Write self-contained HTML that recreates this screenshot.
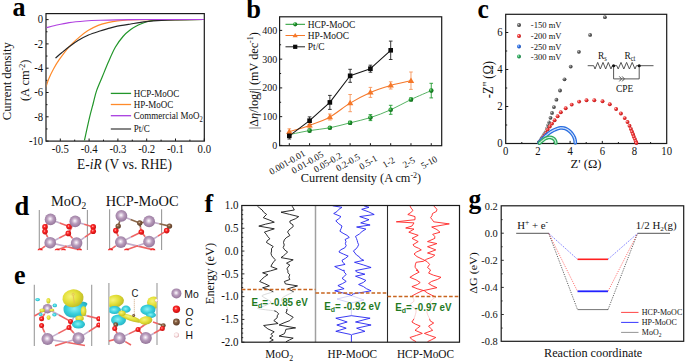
<!DOCTYPE html>
<html><head><meta charset="utf-8"><style>
html,body{margin:0;padding:0;background:#fff;width:685px;height:361px;overflow:hidden;}
svg{display:block;}
</style></head><body>
<svg width="685" height="361" viewBox="0 0 685 361">
<rect width="685" height="361" fill="#fff"/>
<defs>
<radialGradient id="gK" cx="0.35" cy="0.35" r="0.75"><stop offset="0" stop-color="#d0d0d0"/><stop offset="0.35" stop-color="#6a6a6a"/><stop offset="1" stop-color="#2a2a2a"/></radialGradient>
<radialGradient id="gR" cx="0.35" cy="0.35" r="0.75"><stop offset="0" stop-color="#ffd0d0"/><stop offset="0.35" stop-color="#f03a3a"/><stop offset="1" stop-color="#b01010"/></radialGradient>
<radialGradient id="gB" cx="0.35" cy="0.35" r="0.75"><stop offset="0" stop-color="#d0e0ff"/><stop offset="0.35" stop-color="#2f72e6"/><stop offset="1" stop-color="#1040a0"/></radialGradient>
<radialGradient id="gGc" cx="0.35" cy="0.35" r="0.75"><stop offset="0" stop-color="#d0ffe0"/><stop offset="0.35" stop-color="#30aa5e"/><stop offset="1" stop-color="#10703a"/></radialGradient>
<radialGradient id="gG" cx="0.35" cy="0.35" r="0.75"><stop offset="0" stop-color="#a0e0a0"/><stop offset="0.35" stop-color="#1f9a2f"/><stop offset="1" stop-color="#0c5a14"/></radialGradient>
<radialGradient id="gMo" cx="0.47" cy="0.45" r="0.6"><stop offset="0" stop-color="#ffffff"/><stop offset="0.15" stop-color="#e8dcea"/><stop offset="0.45" stop-color="#b89cbc"/><stop offset="1" stop-color="#8e6e94"/></radialGradient>
<radialGradient id="gY" cx="0.4" cy="0.38" r="0.7"><stop offset="0" stop-color="#f6f47a"/><stop offset="0.5" stop-color="#e2de36"/><stop offset="1" stop-color="#b8b424"/></radialGradient>
<radialGradient id="gCy" cx="0.45" cy="0.45" r="0.65"><stop offset="0" stop-color="#8ef0f4"/><stop offset="0.5" stop-color="#38d0dc"/><stop offset="1" stop-color="#22a8bc"/></radialGradient>
<radialGradient id="gO" cx="0.42" cy="0.4" r="0.65"><stop offset="0" stop-color="#ffc8c8"/><stop offset="0.3" stop-color="#ff2a2a"/><stop offset="1" stop-color="#c40808"/></radialGradient>
<radialGradient id="gC" cx="0.42" cy="0.4" r="0.65"><stop offset="0" stop-color="#e0c8b0"/><stop offset="0.3" stop-color="#8a6446"/><stop offset="1" stop-color="#553420"/></radialGradient>
<radialGradient id="gH" cx="0.45" cy="0.45" r="0.6"><stop offset="0" stop-color="#ffffff"/><stop offset="0.55" stop-color="#fbeaea"/><stop offset="1" stop-color="#d08c94"/></radialGradient>
<clipPath id="clipA"><rect x="46.6" y="14.2" width="157.1" height="126.3"/></clipPath>
<clipPath id="clipD"><rect x="30" y="200" width="150" height="50.3"/></clipPath>
<clipPath id="clipD1"><rect x="30" y="205" width="70" height="46"/></clipPath>
<clipPath id="clipE0"><rect x="90" y="280" width="10" height="70"/></clipPath>
<clipPath id="clipE1"><rect x="109.3" y="280" width="47.3" height="70"/></clipPath>
</defs>
<rect x="46.00" y="13.60" width="158.30" height="127.50" fill="none" stroke="#1a1a1a" stroke-width="1.2"/>
<line x1="60.30" y1="141.10" x2="60.30" y2="138.50" stroke="#1a1a1a" stroke-width="1"/>
<line x1="74.70" y1="141.10" x2="74.70" y2="139.60" stroke="#1a1a1a" stroke-width="1"/>
<line x1="89.10" y1="141.10" x2="89.10" y2="138.50" stroke="#1a1a1a" stroke-width="1"/>
<line x1="103.50" y1="141.10" x2="103.50" y2="139.60" stroke="#1a1a1a" stroke-width="1"/>
<line x1="117.90" y1="141.10" x2="117.90" y2="138.50" stroke="#1a1a1a" stroke-width="1"/>
<line x1="132.30" y1="141.10" x2="132.30" y2="139.60" stroke="#1a1a1a" stroke-width="1"/>
<line x1="146.70" y1="141.10" x2="146.70" y2="138.50" stroke="#1a1a1a" stroke-width="1"/>
<line x1="161.10" y1="141.10" x2="161.10" y2="139.60" stroke="#1a1a1a" stroke-width="1"/>
<line x1="175.50" y1="141.10" x2="175.50" y2="138.50" stroke="#1a1a1a" stroke-width="1"/>
<line x1="189.90" y1="141.10" x2="189.90" y2="139.60" stroke="#1a1a1a" stroke-width="1"/>
<line x1="204.30" y1="141.10" x2="204.30" y2="138.50" stroke="#1a1a1a" stroke-width="1"/>
<line x1="46.00" y1="19.60" x2="48.60" y2="19.60" stroke="#1a1a1a" stroke-width="1"/>
<line x1="46.00" y1="31.75" x2="47.50" y2="31.75" stroke="#1a1a1a" stroke-width="1"/>
<line x1="46.00" y1="43.90" x2="48.60" y2="43.90" stroke="#1a1a1a" stroke-width="1"/>
<line x1="46.00" y1="56.05" x2="47.50" y2="56.05" stroke="#1a1a1a" stroke-width="1"/>
<line x1="46.00" y1="68.20" x2="48.60" y2="68.20" stroke="#1a1a1a" stroke-width="1"/>
<line x1="46.00" y1="80.35" x2="47.50" y2="80.35" stroke="#1a1a1a" stroke-width="1"/>
<line x1="46.00" y1="92.50" x2="48.60" y2="92.50" stroke="#1a1a1a" stroke-width="1"/>
<line x1="46.00" y1="104.65" x2="47.50" y2="104.65" stroke="#1a1a1a" stroke-width="1"/>
<line x1="46.00" y1="116.80" x2="48.60" y2="116.80" stroke="#1a1a1a" stroke-width="1"/>
<line x1="46.00" y1="128.95" x2="47.50" y2="128.95" stroke="#1a1a1a" stroke-width="1"/>
<line x1="46.00" y1="141.10" x2="48.60" y2="141.10" stroke="#1a1a1a" stroke-width="1"/>
<text transform="translate(43.20 23.30) scale(1 1.13)" style="font-family:'Liberation Serif', serif" font-size="10.7" text-anchor="end" fill="#111">0</text>
<text transform="translate(43.20 47.60) scale(1 1.13)" style="font-family:'Liberation Serif', serif" font-size="10.7" text-anchor="end" fill="#111">-2</text>
<text transform="translate(43.20 71.90) scale(1 1.13)" style="font-family:'Liberation Serif', serif" font-size="10.7" text-anchor="end" fill="#111">-4</text>
<text transform="translate(43.20 96.20) scale(1 1.13)" style="font-family:'Liberation Serif', serif" font-size="10.7" text-anchor="end" fill="#111">-6</text>
<text transform="translate(43.20 120.50) scale(1 1.13)" style="font-family:'Liberation Serif', serif" font-size="10.7" text-anchor="end" fill="#111">-8</text>
<text transform="translate(43.20 144.80) scale(1 1.13)" style="font-family:'Liberation Serif', serif" font-size="10.7" text-anchor="end" fill="#111">-10</text>
<text transform="translate(60.30 152.60) scale(1 1.13)" style="font-family:'Liberation Serif', serif" font-size="10.7" text-anchor="middle" fill="#111">-0.5</text>
<text transform="translate(89.10 152.60) scale(1 1.13)" style="font-family:'Liberation Serif', serif" font-size="10.7" text-anchor="middle" fill="#111">-0.4</text>
<text transform="translate(117.90 152.60) scale(1 1.13)" style="font-family:'Liberation Serif', serif" font-size="10.7" text-anchor="middle" fill="#111">-0.3</text>
<text transform="translate(146.70 152.60) scale(1 1.13)" style="font-family:'Liberation Serif', serif" font-size="10.7" text-anchor="middle" fill="#111">-0.2</text>
<text transform="translate(175.50 152.60) scale(1 1.13)" style="font-family:'Liberation Serif', serif" font-size="10.7" text-anchor="middle" fill="#111">-0.1</text>
<text transform="translate(204.30 152.60) scale(1 1.13)" style="font-family:'Liberation Serif', serif" font-size="10.7" text-anchor="middle" fill="#111">0.0</text>
<text transform="translate(124.50 168.80) scale(1 1.13)" style="font-family:'Liberation Serif', serif" font-size="13.4" text-anchor="middle" fill="#111">E-<tspan font-style="italic">iR</tspan> (V vs. RHE)</text>
<text transform="translate(11.20 81.25) rotate(-90) scale(1 0.92)" style="font-family:'Liberation Serif', serif" font-size="12.6" text-anchor="middle" fill="#111">Current density</text>
<text transform="translate(29.30 80.40) rotate(-90) scale(1 1.04)" style="font-family:'Liberation Serif', serif" font-size="12.4" text-anchor="middle" fill="#111">(A cm<tspan font-size="8" dy="-4.5">-2</tspan><tspan dy="4.5">)</tspan></text>
<text transform="translate(12.40 16.30) scale(1 1.06)" style="font-family:'Liberation Serif', serif" font-size="26" text-anchor="start" fill="#000" font-weight="bold">a</text>
<g clip-path="url(#clipA)">
<path d="M84.30,141.10 C85.17,137.20 88.00,124.05 89.50,117.70 C91.00,111.35 92.12,107.52 93.30,103.00 C94.48,98.48 95.08,95.02 96.60,90.60 C98.12,86.18 100.43,81.27 102.40,76.50 C104.37,71.73 106.25,66.87 108.40,62.00 C110.55,57.13 112.87,51.55 115.30,47.30 C117.73,43.05 120.43,39.45 123.00,36.50 C125.57,33.55 128.15,31.52 130.70,29.60 C133.25,27.68 135.75,26.27 138.30,25.00 C140.85,23.73 143.45,22.77 146.00,22.00 C148.55,21.23 149.77,20.78 153.60,20.40 C157.43,20.02 160.55,19.85 169.00,19.70 C177.45,19.55 198.42,19.53 204.30,19.50" fill="none" stroke="#22962a" stroke-width="1.2"/>
<path d="M45.90,87.10 C46.37,85.73 47.43,81.92 48.70,78.90 C49.97,75.88 51.75,72.20 53.50,69.00 C55.25,65.80 56.60,63.40 59.20,59.70 C61.80,56.00 65.83,50.48 69.10,46.80 C72.37,43.12 75.65,40.30 78.80,37.60 C81.95,34.90 84.77,32.63 88.00,30.60 C91.23,28.57 94.92,26.72 98.20,25.40 C101.48,24.08 104.47,23.45 107.70,22.70 C110.93,21.95 114.22,21.35 117.60,20.90 C120.98,20.45 124.27,20.22 128.00,20.00 C131.73,19.78 127.28,19.68 140.00,19.60 C152.72,19.52 193.58,19.52 204.30,19.50" fill="none" stroke="#ff8a2a" stroke-width="1.2"/>
<path d="M55.50,58.10 C56.58,57.17 59.73,54.38 62.00,52.50 C64.27,50.62 66.43,48.80 69.10,46.80 C71.77,44.80 74.77,42.47 78.00,40.50 C81.23,38.53 84.83,36.58 88.50,35.00 C92.17,33.42 96.80,32.05 100.00,31.00 C103.20,29.95 105.15,29.43 107.70,28.70 C110.25,27.97 111.47,27.38 115.30,26.60 C119.13,25.82 125.58,24.82 130.70,24.00 C135.82,23.18 140.90,22.30 146.00,21.70 C151.10,21.10 156.20,20.70 161.30,20.40 C166.40,20.10 169.43,20.05 176.60,19.90 C183.77,19.75 199.68,19.57 204.30,19.50" fill="none" stroke="#262626" stroke-width="1.2"/>
<path d="M46.00,27.80 C47.50,27.42 51.15,26.37 55.00,25.50 C58.85,24.63 64.10,23.35 69.10,22.60 C74.10,21.85 79.85,21.38 85.00,21.00 C90.15,20.62 92.38,20.53 100.00,20.30 C107.62,20.07 120.70,19.73 130.70,19.60 C140.70,19.47 147.73,19.52 160.00,19.50 C172.27,19.48 196.92,19.50 204.30,19.50" fill="none" stroke="#b040e0" stroke-width="1.15"/>
</g>
<line x1="110.80" y1="93.40" x2="131.10" y2="93.40" stroke="#22962a" stroke-width="1.3"/>
<text transform="translate(133.70 96.60) scale(1 1.13)" style="font-family:'Liberation Serif', serif" font-size="9.0" text-anchor="start" fill="#111">HCP-MoOC</text>
<line x1="110.80" y1="104.50" x2="131.10" y2="104.50" stroke="#ff8a2a" stroke-width="1.3"/>
<text transform="translate(133.70 107.70) scale(1 1.13)" style="font-family:'Liberation Serif', serif" font-size="9.0" text-anchor="start" fill="#111">HP-MoOC</text>
<line x1="110.80" y1="115.70" x2="131.10" y2="115.70" stroke="#a83ee0" stroke-width="1.3"/>
<text transform="translate(133.70 118.90) scale(1 1.13)" style="font-family:'Liberation Serif', serif" font-size="9.0" text-anchor="start" fill="#111">Commercial MoO<tspan font-size="6.5" dy="2.5">2</tspan></text>
<line x1="110.80" y1="129.00" x2="131.10" y2="129.00" stroke="#444" stroke-width="1.3"/>
<text transform="translate(133.70 132.20) scale(1 1.13)" style="font-family:'Liberation Serif', serif" font-size="9.0" text-anchor="start" fill="#111">Pt/C</text>
<rect x="279.60" y="16.80" width="162.10" height="128.90" fill="none" stroke="#1a1a1a" stroke-width="1.2"/>
<line x1="289.30" y1="145.40" x2="289.30" y2="143.20" stroke="#1a1a1a" stroke-width="1"/>
<line x1="309.58" y1="145.40" x2="309.58" y2="143.20" stroke="#1a1a1a" stroke-width="1"/>
<line x1="329.86" y1="145.40" x2="329.86" y2="143.20" stroke="#1a1a1a" stroke-width="1"/>
<line x1="350.14" y1="145.40" x2="350.14" y2="143.20" stroke="#1a1a1a" stroke-width="1"/>
<line x1="370.42" y1="145.40" x2="370.42" y2="143.20" stroke="#1a1a1a" stroke-width="1"/>
<line x1="390.70" y1="145.40" x2="390.70" y2="143.20" stroke="#1a1a1a" stroke-width="1"/>
<line x1="410.98" y1="145.40" x2="410.98" y2="143.20" stroke="#1a1a1a" stroke-width="1"/>
<line x1="431.26" y1="145.40" x2="431.26" y2="143.20" stroke="#1a1a1a" stroke-width="1"/>
<line x1="279.60" y1="145.40" x2="282.20" y2="145.40" stroke="#1a1a1a" stroke-width="1"/>
<line x1="279.60" y1="131.03" x2="281.10" y2="131.03" stroke="#1a1a1a" stroke-width="1"/>
<line x1="279.60" y1="116.65" x2="282.20" y2="116.65" stroke="#1a1a1a" stroke-width="1"/>
<line x1="279.60" y1="102.28" x2="281.10" y2="102.28" stroke="#1a1a1a" stroke-width="1"/>
<line x1="279.60" y1="87.90" x2="282.20" y2="87.90" stroke="#1a1a1a" stroke-width="1"/>
<line x1="279.60" y1="73.53" x2="281.10" y2="73.53" stroke="#1a1a1a" stroke-width="1"/>
<line x1="279.60" y1="59.15" x2="282.20" y2="59.15" stroke="#1a1a1a" stroke-width="1"/>
<line x1="279.60" y1="44.78" x2="281.10" y2="44.78" stroke="#1a1a1a" stroke-width="1"/>
<line x1="279.60" y1="30.40" x2="282.20" y2="30.40" stroke="#1a1a1a" stroke-width="1"/>
<text transform="translate(277.20 148.90) scale(1 1.13)" style="font-family:'Liberation Serif', serif" font-size="10.0" text-anchor="end" fill="#111">0</text>
<text transform="translate(277.20 120.15) scale(1 1.13)" style="font-family:'Liberation Serif', serif" font-size="10.0" text-anchor="end" fill="#111">100</text>
<text transform="translate(277.20 91.40) scale(1 1.13)" style="font-family:'Liberation Serif', serif" font-size="10.0" text-anchor="end" fill="#111">200</text>
<text transform="translate(277.20 62.65) scale(1 1.13)" style="font-family:'Liberation Serif', serif" font-size="10.0" text-anchor="end" fill="#111">300</text>
<text transform="translate(277.20 33.90) scale(1 1.13)" style="font-family:'Liberation Serif', serif" font-size="10.0" text-anchor="end" fill="#111">400</text>
<text transform="translate(288.70 165.10) rotate(-30) scale(1 1.02)" style="font-family:'Liberation Serif', serif" font-size="9.2" text-anchor="middle" fill="#111">0.001-0.01</text>
<text transform="translate(308.98 165.10) rotate(-30) scale(1 1.02)" style="font-family:'Liberation Serif', serif" font-size="9.2" text-anchor="middle" fill="#111">0.01-0.05</text>
<text transform="translate(329.26 165.10) rotate(-30) scale(1 1.02)" style="font-family:'Liberation Serif', serif" font-size="9.2" text-anchor="middle" fill="#111">0.05-0.2</text>
<text transform="translate(349.54 165.10) rotate(-30) scale(1 1.02)" style="font-family:'Liberation Serif', serif" font-size="9.2" text-anchor="middle" fill="#111">0.2-0.5</text>
<text transform="translate(369.82 165.10) rotate(-30) scale(1 1.02)" style="font-family:'Liberation Serif', serif" font-size="9.2" text-anchor="middle" fill="#111">0.5-1</text>
<text transform="translate(390.10 165.10) rotate(-30) scale(1 1.02)" style="font-family:'Liberation Serif', serif" font-size="9.2" text-anchor="middle" fill="#111">1-2</text>
<text transform="translate(410.38 165.10) rotate(-30) scale(1 1.02)" style="font-family:'Liberation Serif', serif" font-size="9.2" text-anchor="middle" fill="#111">2-5</text>
<text transform="translate(430.66 165.10) rotate(-30) scale(1 1.02)" style="font-family:'Liberation Serif', serif" font-size="9.2" text-anchor="middle" fill="#111">5-10</text>
<text transform="translate(361.00 182.40)" style="font-family:'Liberation Serif', serif" font-size="12.3" text-anchor="middle" fill="#111">Current density (A cm<tspan font-size="8" dy="-4.5">-2</tspan><tspan dy="4.5">)</tspan></text>
<text transform="translate(257.50 80.70) rotate(-90) scale(1 0.95)" style="font-family:'Liberation Serif', serif" font-size="12.2" text-anchor="middle" fill="#111">|Δ<tspan font-style="italic">η</tspan>/log<tspan font-style="italic">j</tspan>| (mV dec<tspan font-size="8" dy="-4.5">-1</tspan><tspan dy="4.5">)</tspan></text>
<text transform="translate(246.20 18.20) scale(1 1.04)" style="font-family:'Liberation Serif', serif" font-size="26.5" text-anchor="start" fill="#000" font-weight="bold">b</text>
<path d="M289.30,134.60 C292.68,133.93 302.82,131.73 309.58,130.60 C316.34,129.47 323.10,129.10 329.86,127.80 C336.62,126.50 343.38,124.50 350.14,122.80 C356.90,121.10 363.66,119.77 370.42,117.60 C377.18,115.43 383.94,112.82 390.70,109.80 C397.46,106.78 404.22,102.70 410.98,99.50 C417.74,96.30 427.88,92.08 431.26,90.60" fill="none" stroke="#2a9e3a" stroke-width="0.8"/>
<path d="M289.30,131.80 C292.68,130.73 302.82,127.87 309.58,125.40 C316.34,122.93 323.10,120.72 329.86,117.00 C336.62,113.28 343.38,107.20 350.14,103.10 C356.90,99.00 363.66,95.35 370.42,92.40 C377.18,89.45 383.94,87.35 390.70,85.40 C397.46,83.45 407.60,81.48 410.98,80.70" fill="none" stroke="#f5782a" stroke-width="1.05"/>
<polyline points="289.30,135.80 309.58,120.70 329.86,102.40 350.14,75.80 370.42,68.70 390.70,50.30" fill="none" stroke="#141414" stroke-width="1.05" stroke-linejoin="round"/>
<line x1="289.30" y1="133.10" x2="289.30" y2="136.10" stroke="#1f9a2f" stroke-width="0.9"/>
<line x1="287.50" y1="133.10" x2="291.10" y2="133.10" stroke="#1f9a2f" stroke-width="0.9"/>
<line x1="287.50" y1="136.10" x2="291.10" y2="136.10" stroke="#1f9a2f" stroke-width="0.9"/>
<line x1="309.58" y1="129.10" x2="309.58" y2="132.10" stroke="#1f9a2f" stroke-width="0.9"/>
<line x1="307.78" y1="129.10" x2="311.38" y2="129.10" stroke="#1f9a2f" stroke-width="0.9"/>
<line x1="307.78" y1="132.10" x2="311.38" y2="132.10" stroke="#1f9a2f" stroke-width="0.9"/>
<line x1="329.86" y1="126.80" x2="329.86" y2="128.80" stroke="#1f9a2f" stroke-width="0.9"/>
<line x1="328.06" y1="126.80" x2="331.66" y2="126.80" stroke="#1f9a2f" stroke-width="0.9"/>
<line x1="328.06" y1="128.80" x2="331.66" y2="128.80" stroke="#1f9a2f" stroke-width="0.9"/>
<line x1="350.14" y1="121.30" x2="350.14" y2="124.30" stroke="#1f9a2f" stroke-width="0.9"/>
<line x1="348.34" y1="121.30" x2="351.94" y2="121.30" stroke="#1f9a2f" stroke-width="0.9"/>
<line x1="348.34" y1="124.30" x2="351.94" y2="124.30" stroke="#1f9a2f" stroke-width="0.9"/>
<line x1="370.42" y1="114.60" x2="370.42" y2="120.60" stroke="#1f9a2f" stroke-width="0.9"/>
<line x1="368.62" y1="114.60" x2="372.22" y2="114.60" stroke="#1f9a2f" stroke-width="0.9"/>
<line x1="368.62" y1="120.60" x2="372.22" y2="120.60" stroke="#1f9a2f" stroke-width="0.9"/>
<line x1="390.70" y1="105.30" x2="390.70" y2="114.30" stroke="#1f9a2f" stroke-width="0.9"/>
<line x1="388.90" y1="105.30" x2="392.50" y2="105.30" stroke="#1f9a2f" stroke-width="0.9"/>
<line x1="388.90" y1="114.30" x2="392.50" y2="114.30" stroke="#1f9a2f" stroke-width="0.9"/>
<line x1="410.98" y1="98.00" x2="410.98" y2="101.00" stroke="#1f9a2f" stroke-width="0.9"/>
<line x1="409.18" y1="98.00" x2="412.78" y2="98.00" stroke="#1f9a2f" stroke-width="0.9"/>
<line x1="409.18" y1="101.00" x2="412.78" y2="101.00" stroke="#1f9a2f" stroke-width="0.9"/>
<line x1="431.26" y1="83.30" x2="431.26" y2="97.90" stroke="#1f9a2f" stroke-width="0.9"/>
<line x1="429.46" y1="83.30" x2="433.06" y2="83.30" stroke="#1f9a2f" stroke-width="0.9"/>
<line x1="429.46" y1="97.90" x2="433.06" y2="97.90" stroke="#1f9a2f" stroke-width="0.9"/>
<line x1="289.30" y1="128.80" x2="289.30" y2="134.80" stroke="#f7955a" stroke-width="0.9"/>
<line x1="287.50" y1="128.80" x2="291.10" y2="128.80" stroke="#f7955a" stroke-width="0.9"/>
<line x1="287.50" y1="134.80" x2="291.10" y2="134.80" stroke="#f7955a" stroke-width="0.9"/>
<line x1="309.58" y1="122.90" x2="309.58" y2="127.90" stroke="#f7955a" stroke-width="0.9"/>
<line x1="307.78" y1="122.90" x2="311.38" y2="122.90" stroke="#f7955a" stroke-width="0.9"/>
<line x1="307.78" y1="127.90" x2="311.38" y2="127.90" stroke="#f7955a" stroke-width="0.9"/>
<line x1="329.86" y1="114.00" x2="329.86" y2="120.00" stroke="#f7955a" stroke-width="0.9"/>
<line x1="328.06" y1="114.00" x2="331.66" y2="114.00" stroke="#f7955a" stroke-width="0.9"/>
<line x1="328.06" y1="120.00" x2="331.66" y2="120.00" stroke="#f7955a" stroke-width="0.9"/>
<line x1="350.14" y1="94.50" x2="350.14" y2="111.70" stroke="#f7955a" stroke-width="0.9"/>
<line x1="348.34" y1="94.50" x2="351.94" y2="94.50" stroke="#f7955a" stroke-width="0.9"/>
<line x1="348.34" y1="111.70" x2="351.94" y2="111.70" stroke="#f7955a" stroke-width="0.9"/>
<line x1="370.42" y1="87.40" x2="370.42" y2="97.40" stroke="#f7955a" stroke-width="0.9"/>
<line x1="368.62" y1="87.40" x2="372.22" y2="87.40" stroke="#f7955a" stroke-width="0.9"/>
<line x1="368.62" y1="97.40" x2="372.22" y2="97.40" stroke="#f7955a" stroke-width="0.9"/>
<line x1="390.70" y1="81.80" x2="390.70" y2="89.00" stroke="#f7955a" stroke-width="0.9"/>
<line x1="388.90" y1="81.80" x2="392.50" y2="81.80" stroke="#f7955a" stroke-width="0.9"/>
<line x1="388.90" y1="89.00" x2="392.50" y2="89.00" stroke="#f7955a" stroke-width="0.9"/>
<line x1="410.98" y1="72.00" x2="410.98" y2="89.40" stroke="#f7955a" stroke-width="0.9"/>
<line x1="409.18" y1="72.00" x2="412.78" y2="72.00" stroke="#f7955a" stroke-width="0.9"/>
<line x1="409.18" y1="89.40" x2="412.78" y2="89.40" stroke="#f7955a" stroke-width="0.9"/>
<line x1="289.30" y1="132.60" x2="289.30" y2="139.00" stroke="#222" stroke-width="0.9"/>
<line x1="287.50" y1="132.60" x2="291.10" y2="132.60" stroke="#222" stroke-width="0.9"/>
<line x1="287.50" y1="139.00" x2="291.10" y2="139.00" stroke="#222" stroke-width="0.9"/>
<line x1="309.58" y1="116.90" x2="309.58" y2="124.50" stroke="#222" stroke-width="0.9"/>
<line x1="307.78" y1="116.90" x2="311.38" y2="116.90" stroke="#222" stroke-width="0.9"/>
<line x1="307.78" y1="124.50" x2="311.38" y2="124.50" stroke="#222" stroke-width="0.9"/>
<line x1="329.86" y1="95.40" x2="329.86" y2="109.40" stroke="#222" stroke-width="0.9"/>
<line x1="328.06" y1="95.40" x2="331.66" y2="95.40" stroke="#222" stroke-width="0.9"/>
<line x1="328.06" y1="109.40" x2="331.66" y2="109.40" stroke="#222" stroke-width="0.9"/>
<line x1="350.14" y1="69.30" x2="350.14" y2="82.30" stroke="#222" stroke-width="0.9"/>
<line x1="348.34" y1="69.30" x2="351.94" y2="69.30" stroke="#222" stroke-width="0.9"/>
<line x1="348.34" y1="82.30" x2="351.94" y2="82.30" stroke="#222" stroke-width="0.9"/>
<line x1="370.42" y1="65.20" x2="370.42" y2="72.20" stroke="#222" stroke-width="0.9"/>
<line x1="368.62" y1="65.20" x2="372.22" y2="65.20" stroke="#222" stroke-width="0.9"/>
<line x1="368.62" y1="72.20" x2="372.22" y2="72.20" stroke="#222" stroke-width="0.9"/>
<line x1="390.70" y1="41.10" x2="390.70" y2="59.50" stroke="#222" stroke-width="0.9"/>
<line x1="388.90" y1="41.10" x2="392.50" y2="41.10" stroke="#222" stroke-width="0.9"/>
<line x1="388.90" y1="59.50" x2="392.50" y2="59.50" stroke="#222" stroke-width="0.9"/>
<circle cx="289.30" cy="134.60" r="2.3" fill="url(#gG)"/>
<circle cx="309.58" cy="130.60" r="2.3" fill="url(#gG)"/>
<circle cx="329.86" cy="127.80" r="2.3" fill="url(#gG)"/>
<circle cx="350.14" cy="122.80" r="2.3" fill="url(#gG)"/>
<circle cx="370.42" cy="117.60" r="2.3" fill="url(#gG)"/>
<circle cx="390.70" cy="109.80" r="2.3" fill="url(#gG)"/>
<circle cx="410.98" cy="99.50" r="2.3" fill="url(#gG)"/>
<circle cx="431.26" cy="90.60" r="2.3" fill="url(#gG)"/>
<polygon points="289.30,128.50 292.50,134.00 286.10,134.00" fill="#f5782a"/>
<polygon points="309.58,122.10 312.78,127.60 306.38,127.60" fill="#f5782a"/>
<polygon points="329.86,113.70 333.06,119.20 326.66,119.20" fill="#f5782a"/>
<polygon points="350.14,99.80 353.34,105.30 346.94,105.30" fill="#f5782a"/>
<polygon points="370.42,89.10 373.62,94.60 367.22,94.60" fill="#f5782a"/>
<polygon points="390.70,82.10 393.90,87.60 387.50,87.60" fill="#f5782a"/>
<polygon points="410.98,77.40 414.18,82.90 407.78,82.90" fill="#f5782a"/>
<rect x="287.00" y="133.50" width="4.6" height="4.6" fill="#0a0a0a"/>
<rect x="307.28" y="118.40" width="4.6" height="4.6" fill="#0a0a0a"/>
<rect x="327.56" y="100.10" width="4.6" height="4.6" fill="#0a0a0a"/>
<rect x="347.84" y="73.50" width="4.6" height="4.6" fill="#0a0a0a"/>
<rect x="368.12" y="66.40" width="4.6" height="4.6" fill="#0a0a0a"/>
<rect x="388.40" y="48.00" width="4.6" height="4.6" fill="#0a0a0a"/>
<line x1="285.50" y1="24.30" x2="305.00" y2="24.30" stroke="#1f9a2f" stroke-width="1.0"/>
<circle cx="295.2" cy="24.3" r="2.1" fill="url(#gG)"/>
<text transform="translate(307.80 27.50) scale(1 1.13)" style="font-family:'Liberation Serif', serif" font-size="9.4" text-anchor="start" fill="#111">HCP-MoOC</text>
<line x1="285.50" y1="35.50" x2="305.00" y2="35.50" stroke="#f5782a" stroke-width="1.0"/>
<polygon points="295.2,32.9 297.8,37.3 292.59999999999997,37.3" fill="#f5782a"/>
<text transform="translate(307.80 38.70) scale(1 1.13)" style="font-family:'Liberation Serif', serif" font-size="9.4" text-anchor="start" fill="#111">HP-MoOC</text>
<line x1="285.50" y1="46.80" x2="305.00" y2="46.80" stroke="#222" stroke-width="1.0"/>
<rect x="293.09999999999997" y="44.699999999999996" width="4.2" height="4.2" fill="#0a0a0a"/>
<text transform="translate(307.80 50.00) scale(1 1.13)" style="font-family:'Liberation Serif', serif" font-size="9.4" text-anchor="start" fill="#111">Pt/C</text>
<rect x="505.70" y="14.30" width="161.00" height="129.20" fill="none" stroke="#1a1a1a" stroke-width="1.2"/>
<line x1="521.80" y1="143.50" x2="521.80" y2="142.00" stroke="#1a1a1a" stroke-width="1"/>
<line x1="537.90" y1="143.50" x2="537.90" y2="140.90" stroke="#1a1a1a" stroke-width="1"/>
<line x1="554.00" y1="143.50" x2="554.00" y2="142.00" stroke="#1a1a1a" stroke-width="1"/>
<line x1="570.10" y1="143.50" x2="570.10" y2="140.90" stroke="#1a1a1a" stroke-width="1"/>
<line x1="586.20" y1="143.50" x2="586.20" y2="142.00" stroke="#1a1a1a" stroke-width="1"/>
<line x1="602.30" y1="143.50" x2="602.30" y2="140.90" stroke="#1a1a1a" stroke-width="1"/>
<line x1="618.40" y1="143.50" x2="618.40" y2="142.00" stroke="#1a1a1a" stroke-width="1"/>
<line x1="634.50" y1="143.50" x2="634.50" y2="140.90" stroke="#1a1a1a" stroke-width="1"/>
<line x1="650.60" y1="143.50" x2="650.60" y2="142.00" stroke="#1a1a1a" stroke-width="1"/>
<line x1="505.70" y1="125.00" x2="507.20" y2="125.00" stroke="#1a1a1a" stroke-width="1"/>
<line x1="505.70" y1="106.50" x2="508.30" y2="106.50" stroke="#1a1a1a" stroke-width="1"/>
<line x1="505.70" y1="88.00" x2="507.20" y2="88.00" stroke="#1a1a1a" stroke-width="1"/>
<line x1="505.70" y1="69.50" x2="508.30" y2="69.50" stroke="#1a1a1a" stroke-width="1"/>
<line x1="505.70" y1="51.00" x2="507.20" y2="51.00" stroke="#1a1a1a" stroke-width="1"/>
<line x1="505.70" y1="32.50" x2="508.30" y2="32.50" stroke="#1a1a1a" stroke-width="1"/>
<text transform="translate(502.50 147.20) scale(1 1.13)" style="font-family:'Liberation Serif', serif" font-size="10.7" text-anchor="end" fill="#111">0</text>
<text transform="translate(502.50 110.20) scale(1 1.13)" style="font-family:'Liberation Serif', serif" font-size="10.7" text-anchor="end" fill="#111">2</text>
<text transform="translate(502.50 73.20) scale(1 1.13)" style="font-family:'Liberation Serif', serif" font-size="10.7" text-anchor="end" fill="#111">4</text>
<text transform="translate(502.50 36.20) scale(1 1.13)" style="font-family:'Liberation Serif', serif" font-size="10.7" text-anchor="end" fill="#111">6</text>
<text transform="translate(505.70 155.00) scale(1 1.13)" style="font-family:'Liberation Serif', serif" font-size="10.7" text-anchor="middle" fill="#111">0</text>
<text transform="translate(537.90 155.00) scale(1 1.13)" style="font-family:'Liberation Serif', serif" font-size="10.7" text-anchor="middle" fill="#111">2</text>
<text transform="translate(570.10 155.00) scale(1 1.13)" style="font-family:'Liberation Serif', serif" font-size="10.7" text-anchor="middle" fill="#111">4</text>
<text transform="translate(602.30 155.00) scale(1 1.13)" style="font-family:'Liberation Serif', serif" font-size="10.7" text-anchor="middle" fill="#111">6</text>
<text transform="translate(634.50 155.00) scale(1 1.13)" style="font-family:'Liberation Serif', serif" font-size="10.7" text-anchor="middle" fill="#111">8</text>
<text transform="translate(666.70 155.00) scale(1 1.13)" style="font-family:'Liberation Serif', serif" font-size="10.7" text-anchor="middle" fill="#111">10</text>
<text transform="translate(586.00 168.10) scale(1 0.94)" style="font-family:'Liberation Serif', serif" font-size="12.6" text-anchor="middle" fill="#111">Z' (Ω)</text>
<text transform="translate(492.60 79.60) rotate(-90) scale(1 1.13)" style="font-family:'Liberation Serif', serif" font-size="12.6" text-anchor="middle" fill="#111">-Z'' (Ω)</text>
<text transform="translate(477.60 18.00) scale(1 1.08)" style="font-family:'Liberation Serif', serif" font-size="25.5" text-anchor="start" fill="#000" font-weight="bold">c</text>
<circle cx="519.0" cy="25.1" r="2.0" fill="url(#gK)"/>
<text transform="translate(530.80 28.10) scale(1 0.95)" style="font-family:'Liberation Serif', serif" font-size="8.6" text-anchor="start" fill="#111">-150 mV</text>
<circle cx="519.0" cy="36.1" r="2.0" fill="url(#gR)"/>
<text transform="translate(530.80 39.10) scale(1 0.95)" style="font-family:'Liberation Serif', serif" font-size="8.6" text-anchor="start" fill="#111">-200 mV</text>
<circle cx="519.0" cy="46.6" r="2.0" fill="url(#gB)"/>
<text transform="translate(530.80 49.60) scale(1 0.95)" style="font-family:'Liberation Serif', serif" font-size="8.6" text-anchor="start" fill="#111">-250 mV</text>
<circle cx="519.0" cy="56.6" r="2.0" fill="url(#gGc)"/>
<text transform="translate(530.80 59.60) scale(1 0.95)" style="font-family:'Liberation Serif', serif" font-size="8.6" text-anchor="start" fill="#111">-300 mV</text>
<circle cx="538.80" cy="142.10" r="1.3" fill="url(#gK)"/>
<circle cx="539.80" cy="140.50" r="1.3" fill="url(#gK)"/>
<circle cx="540.80" cy="138.90" r="1.3" fill="url(#gK)"/>
<circle cx="541.80" cy="137.30" r="1.3" fill="url(#gK)"/>
<circle cx="542.80" cy="135.70" r="1.3" fill="url(#gK)"/>
<circle cx="543.80" cy="134.10" r="1.3" fill="url(#gK)"/>
<circle cx="544.90" cy="132.50" r="1.3" fill="url(#gK)"/>
<circle cx="545.90" cy="130.90" r="1.3" fill="url(#gK)"/>
<circle cx="546.90" cy="128.10" r="1.6" fill="url(#gK)"/>
<circle cx="547.90" cy="125.10" r="1.6" fill="url(#gK)"/>
<circle cx="549.10" cy="122.20" r="1.6" fill="url(#gK)"/>
<circle cx="550.50" cy="117.80" r="1.9" fill="url(#gK)"/>
<circle cx="552.00" cy="112.90" r="1.9" fill="url(#gK)"/>
<circle cx="553.90" cy="107.10" r="1.9" fill="url(#gK)"/>
<circle cx="556.40" cy="99.70" r="1.9" fill="url(#gK)"/>
<circle cx="560.00" cy="90.50" r="1.9" fill="url(#gK)"/>
<circle cx="564.50" cy="79.30" r="1.9" fill="url(#gK)"/>
<circle cx="570.70" cy="66.60" r="1.9" fill="url(#gK)"/>
<circle cx="578.90" cy="51.80" r="1.9" fill="url(#gK)"/>
<circle cx="590.10" cy="34.90" r="1.9" fill="url(#gK)"/>
<circle cx="604.90" cy="17.20" r="1.9" fill="url(#gK)"/>
<circle cx="538.80" cy="142.40" r="1.5" fill="url(#gR)"/>
<circle cx="540.00" cy="140.90" r="1.5" fill="url(#gR)"/>
<circle cx="541.20" cy="139.40" r="1.5" fill="url(#gR)"/>
<circle cx="542.40" cy="137.80" r="1.5" fill="url(#gR)"/>
<circle cx="543.60" cy="136.20" r="1.5" fill="url(#gR)"/>
<circle cx="544.80" cy="134.50" r="1.5" fill="url(#gR)"/>
<circle cx="546.10" cy="132.60" r="1.5" fill="url(#gR)"/>
<circle cx="547.60" cy="129.60" r="1.95" fill="url(#gR)"/>
<circle cx="549.80" cy="126.50" r="1.95" fill="url(#gR)"/>
<circle cx="552.00" cy="123.60" r="1.95" fill="url(#gR)"/>
<circle cx="554.60" cy="120.20" r="1.95" fill="url(#gR)"/>
<circle cx="557.60" cy="116.30" r="1.95" fill="url(#gR)"/>
<circle cx="560.80" cy="112.30" r="1.95" fill="url(#gR)"/>
<circle cx="565.70" cy="108.20" r="1.95" fill="url(#gR)"/>
<circle cx="571.70" cy="104.60" r="1.95" fill="url(#gR)"/>
<circle cx="579.10" cy="101.60" r="1.95" fill="url(#gR)"/>
<circle cx="586.50" cy="100.30" r="1.95" fill="url(#gR)"/>
<circle cx="594.30" cy="100.30" r="1.95" fill="url(#gR)"/>
<circle cx="602.50" cy="101.30" r="1.95" fill="url(#gR)"/>
<circle cx="609.80" cy="104.30" r="1.95" fill="url(#gR)"/>
<circle cx="616.10" cy="109.00" r="1.95" fill="url(#gR)"/>
<circle cx="620.90" cy="113.50" r="1.95" fill="url(#gR)"/>
<circle cx="624.70" cy="118.10" r="1.95" fill="url(#gR)"/>
<circle cx="627.50" cy="122.00" r="1.95" fill="url(#gR)"/>
<circle cx="629.50" cy="125.70" r="1.95" fill="url(#gR)"/>
<circle cx="630.90" cy="128.90" r="1.95" fill="url(#gR)"/>
<circle cx="632.00" cy="131.70" r="1.95" fill="url(#gR)"/>
<circle cx="633.00" cy="134.30" r="1.95" fill="url(#gR)"/>
<circle cx="633.80" cy="136.80" r="1.95" fill="url(#gR)"/>
<circle cx="634.90" cy="139.10" r="1.95" fill="url(#gR)"/>
<circle cx="635.80" cy="141.40" r="1.95" fill="url(#gR)"/>
<circle cx="636.40" cy="143.00" r="1.95" fill="url(#gR)"/>
<path d="M539.00,142.80 C539.25,142.50 539.78,141.77 540.50,141.00 C541.22,140.23 542.37,139.12 543.30,138.20 C544.23,137.28 545.18,136.32 546.10,135.50 C547.02,134.68 547.88,133.98 548.80,133.30 C549.72,132.62 550.67,131.97 551.60,131.40 C552.53,130.83 553.47,130.35 554.40,129.90 C555.33,129.45 556.18,129.03 557.20,128.70 C558.22,128.37 559.37,128.00 560.50,127.90 C561.63,127.80 562.92,127.87 564.00,128.10 C565.08,128.33 566.03,128.77 567.00,129.30 C567.97,129.83 568.93,130.52 569.80,131.30 C570.67,132.08 571.50,133.05 572.20,134.00 C572.90,134.95 573.53,135.98 574.00,137.00 C574.47,138.02 574.78,139.13 575.00,140.10 C575.22,141.07 575.25,142.35 575.30,142.80" fill="none" stroke="#2b6fe0" stroke-width="3.7" stroke-linecap="round"/>
<path d="M539.00,142.80 C539.25,142.50 539.78,141.77 540.50,141.00 C541.22,140.23 542.37,139.12 543.30,138.20 C544.23,137.28 545.18,136.32 546.10,135.50 C547.02,134.68 547.88,133.98 548.80,133.30 C549.72,132.62 550.67,131.97 551.60,131.40 C552.53,130.83 553.47,130.35 554.40,129.90 C555.33,129.45 556.18,129.03 557.20,128.70 C558.22,128.37 559.37,128.00 560.50,127.90 C561.63,127.80 562.92,127.87 564.00,128.10 C565.08,128.33 566.03,128.77 567.00,129.30 C567.97,129.83 568.93,130.52 569.80,131.30 C570.67,132.08 571.50,133.05 572.20,134.00 C572.90,134.95 573.53,135.98 574.00,137.00 C574.47,138.02 574.78,139.13 575.00,140.10 C575.22,141.07 575.25,142.35 575.30,142.80" fill="none" stroke="#d4e4fb" stroke-width="1.2" stroke-linecap="round" stroke-dasharray="1.3 0.9"/>
<path d="M539.50,143.00 C540.00,142.60 541.58,141.32 542.50,140.60 C543.42,139.88 544.00,139.23 545.00,138.70 C546.00,138.17 547.42,137.58 548.50,137.40 C549.58,137.22 550.58,137.33 551.50,137.60 C552.42,137.87 553.33,138.40 554.00,139.00 C554.67,139.60 555.20,140.53 555.50,141.20 C555.80,141.87 555.75,142.70 555.80,143.00" fill="none" stroke="#2faa5c" stroke-width="3.7" stroke-linecap="round"/>
<path d="M539.50,143.00 C540.00,142.60 541.58,141.32 542.50,140.60 C543.42,139.88 544.00,139.23 545.00,138.70 C546.00,138.17 547.42,137.58 548.50,137.40 C549.58,137.22 550.58,137.33 551.50,137.60 C552.42,137.87 553.33,138.40 554.00,139.00 C554.67,139.60 555.20,140.53 555.50,141.20 C555.80,141.87 555.75,142.70 555.80,143.00" fill="none" stroke="#d0f0dc" stroke-width="1.2" stroke-linecap="round" stroke-dasharray="1.3 0.9"/>
<line x1="587.70" y1="65.70" x2="593.70" y2="65.70" stroke="#444" stroke-width="0.9"/>
<polyline points="593.70,65.70 595.03,69.00 597.69,62.40 600.34,69.00 603.00,62.40 605.66,69.00 608.31,62.40 610.97,69.00 612.30,65.70" fill="none" stroke="#444" stroke-width="0.9" stroke-linejoin="round"/>
<line x1="612.30" y1="65.70" x2="616.80" y2="65.70" stroke="#444" stroke-width="0.9"/>
<polyline points="616.80,65.70 618.20,69.00 621.00,62.40 623.80,69.00 626.60,62.40 629.40,69.00 632.20,62.40 635.00,69.00 636.40,65.70" fill="none" stroke="#444" stroke-width="0.9" stroke-linejoin="round"/>
<line x1="636.40" y1="65.70" x2="653.50" y2="65.70" stroke="#444" stroke-width="0.9"/>
<polyline points="613.60,65.70 613.60,78.90 639.20,78.90 639.20,65.70" fill="none" stroke="#444" stroke-width="0.9" stroke-linejoin="round"/>
<polyline points="619.30,76.40 621.60,78.90 619.30,81.40" fill="none" stroke="#444" stroke-width="0.9" stroke-linejoin="round"/>
<polyline points="622.10,76.40 624.40,78.90 622.10,81.40" fill="none" stroke="#444" stroke-width="0.9" stroke-linejoin="round"/>
<circle cx="613.6" cy="65.7" r="1.55" fill="#111"/>
<circle cx="639.2" cy="65.7" r="1.55" fill="#111"/>
<text transform="translate(598.00 58.60) scale(1 1.13)" style="font-family:'Liberation Serif', serif" font-size="9.4" text-anchor="start" fill="#111">R<tspan font-size="6.5" dy="2">s</tspan></text>
<text transform="translate(624.40 58.60) scale(1 1.13)" style="font-family:'Liberation Serif', serif" font-size="9.4" text-anchor="start" fill="#111">R<tspan font-size="6.5" dy="2">ct</tspan></text>
<text transform="translate(624.60 91.60) scale(1 1.13)" style="font-family:'Liberation Serif', serif" font-size="9.4" text-anchor="middle" fill="#111">CPE</text>
<text transform="translate(14.40 215.20)" style="font-family:'Liberation Serif', serif" font-size="26.5" text-anchor="start" fill="#000" font-weight="bold">d</text>
<text transform="translate(51.00 205.90) scale(1 1.035)" style="font-family:'Liberation Serif', serif" font-size="14.4" text-anchor="start" fill="#111">MoO<tspan font-size="9.5" dy="3">2</tspan></text>
<text transform="translate(142.10 205.90) scale(1 1.035)" style="font-family:'Liberation Serif', serif" font-size="14.4" text-anchor="middle" fill="#111">HCP-MoOC</text>
<g clip-path="url(#clipD)">
<line x1="39.30" y1="209.90" x2="39.30" y2="250.00" stroke="#9a9a9a" stroke-width="1.1"/>
<line x1="87.40" y1="209.90" x2="87.40" y2="250.00" stroke="#9a9a9a" stroke-width="1.1"/>
<g clip-path="url(#clipD1)">
<line x1="50.50" y1="219.40" x2="59.75" y2="223.00" stroke="#c4aecb" stroke-width="1.6" stroke-linecap="butt"/>
<line x1="59.75" y1="223.00" x2="69.00" y2="226.60" stroke="#ee6464" stroke-width="1.6" stroke-linecap="butt"/>
<line x1="75.20" y1="221.40" x2="84.20" y2="224.15" stroke="#c4aecb" stroke-width="1.6" stroke-linecap="butt"/>
<line x1="84.20" y1="224.15" x2="93.20" y2="226.90" stroke="#ee6464" stroke-width="1.6" stroke-linecap="butt"/>
<line x1="50.20" y1="242.70" x2="47.60" y2="237.15" stroke="#c4aecb" stroke-width="1.6" stroke-linecap="butt"/>
<line x1="47.60" y1="237.15" x2="45.00" y2="231.60" stroke="#ee6464" stroke-width="1.6" stroke-linecap="butt"/>
<line x1="50.20" y1="242.70" x2="59.25" y2="238.05" stroke="#c4aecb" stroke-width="1.6" stroke-linecap="butt"/>
<line x1="59.25" y1="238.05" x2="68.30" y2="233.40" stroke="#ee6464" stroke-width="1.6" stroke-linecap="butt"/>
<line x1="76.60" y1="243.10" x2="72.45" y2="238.25" stroke="#c4aecb" stroke-width="1.6" stroke-linecap="butt"/>
<line x1="72.45" y1="238.25" x2="68.30" y2="233.40" stroke="#ee6464" stroke-width="1.6" stroke-linecap="butt"/>
<line x1="76.60" y1="243.10" x2="84.90" y2="237.20" stroke="#c4aecb" stroke-width="1.6" stroke-linecap="butt"/>
<line x1="84.90" y1="237.20" x2="93.20" y2="231.30" stroke="#ee6464" stroke-width="1.6" stroke-linecap="butt"/>
<line x1="75.20" y1="221.40" x2="71.75" y2="227.40" stroke="#c4aecb" stroke-width="1.6" stroke-linecap="butt"/>
<line x1="71.75" y1="227.40" x2="68.30" y2="233.40" stroke="#ee6464" stroke-width="1.6" stroke-linecap="butt"/>
<line x1="50.20" y1="242.70" x2="64.80" y2="246.15" stroke="#c4aecb" stroke-width="1.6" stroke-linecap="butt"/>
<line x1="64.80" y1="246.15" x2="79.40" y2="249.60" stroke="#ee6464" stroke-width="1.6" stroke-linecap="butt"/>
<line x1="76.60" y1="243.10" x2="66.90" y2="246.45" stroke="#c4aecb" stroke-width="1.6" stroke-linecap="butt"/>
<line x1="66.90" y1="246.45" x2="57.20" y2="249.80" stroke="#ee6464" stroke-width="1.6" stroke-linecap="butt"/>
<line x1="50.20" y1="242.70" x2="45.20" y2="246.15" stroke="#c4aecb" stroke-width="1.6" stroke-linecap="butt"/>
<line x1="45.20" y1="246.15" x2="40.20" y2="249.60" stroke="#ee6464" stroke-width="1.6" stroke-linecap="butt"/>
<line x1="75.20" y1="221.40" x2="72.10" y2="224.00" stroke="#c4aecb" stroke-width="1.6" stroke-linecap="butt"/>
<line x1="72.10" y1="224.00" x2="69.00" y2="226.60" stroke="#ee6464" stroke-width="1.6" stroke-linecap="butt"/>
<line x1="50.50" y1="219.40" x2="47.75" y2="223.15" stroke="#c4aecb" stroke-width="1.6" stroke-linecap="butt"/>
<line x1="47.75" y1="223.15" x2="45.00" y2="226.90" stroke="#ee6464" stroke-width="1.6" stroke-linecap="butt"/>
</g>
<circle cx="40.20" cy="250.80" r="2.6" fill="url(#gO)"/>
<circle cx="57.20" cy="251.00" r="2.6" fill="url(#gO)"/>
<circle cx="63.50" cy="251.00" r="2.6" fill="url(#gO)"/>
<circle cx="79.40" cy="250.80" r="2.6" fill="url(#gO)"/>
<circle cx="45.00" cy="226.90" r="2.8" fill="url(#gO)"/>
<circle cx="45.00" cy="231.60" r="2.8" fill="url(#gO)"/>
<circle cx="69.00" cy="226.60" r="2.8" fill="url(#gO)"/>
<circle cx="68.30" cy="233.40" r="2.8" fill="url(#gO)"/>
<circle cx="93.20" cy="226.90" r="2.8" fill="url(#gO)"/>
<circle cx="93.20" cy="231.30" r="2.8" fill="url(#gO)"/>
<circle cx="50.50" cy="219.40" r="5.8" fill="url(#gMo)"/>
<circle cx="75.20" cy="221.40" r="5.8" fill="url(#gMo)"/>
<circle cx="50.20" cy="242.70" r="5.8" fill="url(#gMo)"/>
<circle cx="76.60" cy="243.10" r="5.8" fill="url(#gMo)"/>
<line x1="109.60" y1="209.20" x2="109.60" y2="250.00" stroke="#9a9a9a" stroke-width="1.1"/>
<line x1="161.60" y1="209.20" x2="161.60" y2="250.00" stroke="#9a9a9a" stroke-width="1.1"/>
<line x1="121.40" y1="215.80" x2="130.55" y2="219.40" stroke="#c4aecb" stroke-width="1.6" stroke-linecap="butt"/>
<line x1="130.55" y1="219.40" x2="139.70" y2="223.00" stroke="#8a6648" stroke-width="1.6" stroke-linecap="butt"/>
<line x1="139.70" y1="223.00" x2="144.40" y2="222.20" stroke="#8a6648" stroke-width="1.6" stroke-linecap="butt"/>
<line x1="144.40" y1="222.20" x2="149.10" y2="221.40" stroke="#c4aecb" stroke-width="1.6" stroke-linecap="butt"/>
<line x1="149.10" y1="221.40" x2="159.30" y2="223.75" stroke="#c4aecb" stroke-width="1.6" stroke-linecap="butt"/>
<line x1="159.30" y1="223.75" x2="169.50" y2="226.10" stroke="#8a6648" stroke-width="1.6" stroke-linecap="butt"/>
<line x1="121.40" y1="215.80" x2="119.80" y2="220.95" stroke="#c4aecb" stroke-width="1.6" stroke-linecap="butt"/>
<line x1="119.80" y1="220.95" x2="118.20" y2="226.10" stroke="#8a6648" stroke-width="1.6" stroke-linecap="butt"/>
<line x1="118.20" y1="226.10" x2="117.00" y2="228.35" stroke="#8a6648" stroke-width="1.6" stroke-linecap="butt"/>
<line x1="117.00" y1="228.35" x2="115.80" y2="230.60" stroke="#ee6464" stroke-width="1.6" stroke-linecap="butt"/>
<line x1="139.70" y1="223.00" x2="140.50" y2="227.50" stroke="#8a6648" stroke-width="1.6" stroke-linecap="butt"/>
<line x1="140.50" y1="227.50" x2="141.30" y2="232.00" stroke="#ee6464" stroke-width="1.6" stroke-linecap="butt"/>
<line x1="169.50" y1="226.10" x2="168.10" y2="228.35" stroke="#8a6648" stroke-width="1.6" stroke-linecap="butt"/>
<line x1="168.10" y1="228.35" x2="166.70" y2="230.60" stroke="#ee6464" stroke-width="1.6" stroke-linecap="butt"/>
<line x1="120.90" y1="242.10" x2="131.10" y2="237.05" stroke="#c4aecb" stroke-width="1.6" stroke-linecap="butt"/>
<line x1="131.10" y1="237.05" x2="141.30" y2="232.00" stroke="#ee6464" stroke-width="1.6" stroke-linecap="butt"/>
<line x1="149.10" y1="241.70" x2="157.90" y2="236.15" stroke="#c4aecb" stroke-width="1.6" stroke-linecap="butt"/>
<line x1="157.90" y1="236.15" x2="166.70" y2="230.60" stroke="#ee6464" stroke-width="1.6" stroke-linecap="butt"/>
<line x1="141.30" y1="232.00" x2="145.20" y2="236.85" stroke="#ee6464" stroke-width="1.6" stroke-linecap="butt"/>
<line x1="145.20" y1="236.85" x2="149.10" y2="241.70" stroke="#c4aecb" stroke-width="1.6" stroke-linecap="butt"/>
<line x1="120.90" y1="242.10" x2="136.85" y2="245.85" stroke="#c4aecb" stroke-width="1.6" stroke-linecap="butt"/>
<line x1="136.85" y1="245.85" x2="152.80" y2="249.60" stroke="#ee6464" stroke-width="1.6" stroke-linecap="butt"/>
<line x1="149.10" y1="241.70" x2="137.80" y2="245.75" stroke="#c4aecb" stroke-width="1.6" stroke-linecap="butt"/>
<line x1="137.80" y1="245.75" x2="126.50" y2="249.80" stroke="#ee6464" stroke-width="1.6" stroke-linecap="butt"/>
<line x1="120.90" y1="242.10" x2="115.70" y2="245.85" stroke="#c4aecb" stroke-width="1.6" stroke-linecap="butt"/>
<line x1="115.70" y1="245.85" x2="110.50" y2="249.60" stroke="#ee6464" stroke-width="1.6" stroke-linecap="butt"/>
<line x1="115.80" y1="230.60" x2="118.35" y2="236.35" stroke="#ee6464" stroke-width="1.6" stroke-linecap="butt"/>
<line x1="118.35" y1="236.35" x2="120.90" y2="242.10" stroke="#c4aecb" stroke-width="1.6" stroke-linecap="butt"/>
<circle cx="110.50" cy="250.80" r="2.6" fill="url(#gO)"/>
<circle cx="126.50" cy="251.00" r="2.6" fill="url(#gO)"/>
<circle cx="152.80" cy="250.80" r="2.6" fill="url(#gO)"/>
<circle cx="115.80" cy="230.60" r="2.8" fill="url(#gO)"/>
<circle cx="141.30" cy="232.00" r="2.8" fill="url(#gO)"/>
<circle cx="166.70" cy="230.60" r="2.8" fill="url(#gO)"/>
<circle cx="118.20" cy="226.10" r="2.7" fill="url(#gC)"/>
<circle cx="139.70" cy="223.00" r="2.7" fill="url(#gC)"/>
<circle cx="169.50" cy="226.10" r="2.7" fill="url(#gC)"/>
<circle cx="121.40" cy="215.80" r="5.9" fill="url(#gMo)"/>
<circle cx="149.10" cy="221.40" r="5.9" fill="url(#gMo)"/>
<circle cx="120.90" cy="242.10" r="5.9" fill="url(#gMo)"/>
<circle cx="149.10" cy="241.70" r="5.9" fill="url(#gMo)"/>
</g>
<text transform="translate(14.00 284.20) scale(1 1.06)" style="font-family:'Liberation Serif', serif" font-size="26" text-anchor="start" fill="#000" font-weight="bold">e</text>
<line x1="34.30" y1="284.80" x2="34.30" y2="345.90" stroke="#9a9a9a" stroke-width="1.1"/>
<line x1="91.70" y1="284.80" x2="91.70" y2="345.90" stroke="#9a9a9a" stroke-width="1.1"/>
<line x1="47.50" y1="339.10" x2="44.55" y2="332.35" stroke="#c4aecb" stroke-width="1.6" stroke-linecap="butt"/>
<line x1="44.55" y1="332.35" x2="41.60" y2="325.60" stroke="#ee6464" stroke-width="1.6" stroke-linecap="butt"/>
<line x1="47.50" y1="339.10" x2="58.25" y2="333.35" stroke="#c4aecb" stroke-width="1.6" stroke-linecap="butt"/>
<line x1="58.25" y1="333.35" x2="69.00" y2="327.60" stroke="#ee6464" stroke-width="1.6" stroke-linecap="butt"/>
<line x1="78.50" y1="338.20" x2="73.75" y2="332.90" stroke="#c4aecb" stroke-width="1.6" stroke-linecap="butt"/>
<line x1="73.75" y1="332.90" x2="69.00" y2="327.60" stroke="#ee6464" stroke-width="1.6" stroke-linecap="butt"/>
<line x1="78.50" y1="338.20" x2="88.65" y2="331.60" stroke="#c4aecb" stroke-width="1.6" stroke-linecap="butt"/>
<line x1="88.65" y1="331.60" x2="98.80" y2="325.00" stroke="#ee6464" stroke-width="1.6" stroke-linecap="butt"/>
<line x1="47.50" y1="308.70" x2="59.00" y2="315.05" stroke="#c4aecb" stroke-width="1.6" stroke-linecap="butt"/>
<line x1="59.00" y1="315.05" x2="70.50" y2="321.40" stroke="#ee6464" stroke-width="1.6" stroke-linecap="butt"/>
<line x1="75.60" y1="313.00" x2="87.20" y2="315.90" stroke="#c4aecb" stroke-width="1.6" stroke-linecap="butt"/>
<line x1="87.20" y1="315.90" x2="98.80" y2="318.80" stroke="#ee6464" stroke-width="1.6" stroke-linecap="butt"/>
<line x1="47.50" y1="339.10" x2="66.25" y2="342.30" stroke="#c4aecb" stroke-width="1.6" stroke-linecap="butt"/>
<line x1="66.25" y1="342.30" x2="85.00" y2="345.50" stroke="#ee6464" stroke-width="1.6" stroke-linecap="butt"/>
<line x1="78.50" y1="338.20" x2="66.75" y2="342.00" stroke="#c4aecb" stroke-width="1.6" stroke-linecap="butt"/>
<line x1="66.75" y1="342.00" x2="55.00" y2="345.80" stroke="#ee6464" stroke-width="1.6" stroke-linecap="butt"/>
<line x1="47.50" y1="308.70" x2="44.55" y2="313.75" stroke="#c4aecb" stroke-width="1.6" stroke-linecap="butt"/>
<line x1="44.55" y1="313.75" x2="41.60" y2="318.80" stroke="#ee6464" stroke-width="1.6" stroke-linecap="butt"/>
<line x1="75.60" y1="313.00" x2="72.30" y2="320.30" stroke="#c4aecb" stroke-width="1.6" stroke-linecap="butt"/>
<line x1="72.30" y1="320.30" x2="69.00" y2="327.60" stroke="#ee6464" stroke-width="1.6" stroke-linecap="butt"/>
<line x1="47.50" y1="308.70" x2="40.90" y2="312.35" stroke="#c4aecb" stroke-width="1.6" stroke-linecap="butt"/>
<line x1="40.90" y1="312.35" x2="34.30" y2="316.00" stroke="#ee6464" stroke-width="1.6" stroke-linecap="butt"/>
<circle cx="41.60" cy="318.80" r="2.5" fill="url(#gO)"/>
<circle cx="41.60" cy="325.60" r="2.5" fill="url(#gO)"/>
<circle cx="69.00" cy="327.60" r="2.5" fill="url(#gO)"/>
<circle cx="70.50" cy="321.40" r="2.5" fill="url(#gO)"/>
<g clip-path="url(#clipE0)">
<circle cx="98.80" cy="318.80" r="2.5" fill="url(#gO)"/>
<circle cx="98.80" cy="325.00" r="2.5" fill="url(#gO)"/>
</g>
<circle cx="47.50" cy="308.70" r="4.8" fill="url(#gMo)"/>
<circle cx="47.50" cy="339.10" r="6.0" fill="url(#gMo)"/>
<circle cx="78.50" cy="338.20" r="6.0" fill="url(#gMo)"/>
<ellipse cx="37.60" cy="299.60" rx="2.4" ry="1.7" fill="url(#gCy)" opacity="1.0" transform="rotate(0 37.60 299.60)"/>
<ellipse cx="48.40" cy="300.80" rx="2.0" ry="2.8" fill="url(#gY)" opacity="1.0" transform="rotate(0 48.40 300.80)"/>
<ellipse cx="54.80" cy="305.40" rx="2.2" ry="1.9" fill="url(#gCy)" opacity="1.0" transform="rotate(0 54.80 305.40)"/>
<ellipse cx="42.20" cy="310.40" rx="2.8" ry="1.9" fill="url(#gY)" opacity="1.0" transform="rotate(0 42.20 310.40)"/>
<ellipse cx="40.60" cy="314.40" rx="2.0" ry="1.7" fill="url(#gCy)" opacity="1.0" transform="rotate(0 40.60 314.40)"/>
<ellipse cx="48.60" cy="317.60" rx="2.0" ry="2.4" fill="url(#gY)" opacity="1.0" transform="rotate(0 48.60 317.60)"/>
<ellipse cx="54.40" cy="314.80" rx="2.2" ry="1.8" fill="url(#gCy)" opacity="1.0" transform="rotate(0 54.40 314.80)"/>
<ellipse cx="51.80" cy="310.20" rx="2.6" ry="1.4" fill="url(#gY)" opacity="1.0" transform="rotate(0 51.80 310.20)"/>
<path d="M63.5,309 C63,304 70,301.5 78,302 C83,301 87,302 87.5,304 C86,307 84,309 85,312 C84,316 78,318 72,317.5 C66,317 63.5,313 63.5,309 Z" fill="url(#gCy)"/>
<ellipse cx="73.00" cy="298.30" rx="10.6" ry="8.9" fill="url(#gY)" opacity="1.0" transform="rotate(-8 73.00 298.30)"/>
<ellipse cx="83.60" cy="311.20" rx="2.8" ry="5.0" fill="url(#gY)" opacity="1.0" transform="rotate(0 83.60 311.20)"/>
<ellipse cx="79.60" cy="318.40" rx="4.2" ry="2.8" fill="url(#gY)" opacity="1.0" transform="rotate(0 79.60 318.40)"/>
<ellipse cx="78.50" cy="324.30" rx="6.5" ry="4.3" fill="url(#gCy)" opacity="1.0" transform="rotate(0 78.50 324.30)"/>
<path d="M73.2,295.5 L74.4,303.2" stroke="#e2b25a" stroke-width="0.7"/><circle cx="73.2" cy="294.4" r="1.1" fill="none" stroke="#e2b25a" stroke-width="0.6"/>
<line x1="108.90" y1="282.90" x2="108.90" y2="345.00" stroke="#9a9a9a" stroke-width="1.1"/>
<line x1="157.00" y1="282.90" x2="157.00" y2="345.00" stroke="#9a9a9a" stroke-width="1.1"/>
<line x1="119.60" y1="338.30" x2="128.80" y2="333.90" stroke="#c4aecb" stroke-width="1.6" stroke-linecap="butt"/>
<line x1="128.80" y1="333.90" x2="138.00" y2="329.50" stroke="#ee6464" stroke-width="1.6" stroke-linecap="butt"/>
<line x1="145.80" y1="337.90" x2="154.05" y2="333.20" stroke="#c4aecb" stroke-width="1.6" stroke-linecap="butt"/>
<line x1="154.05" y1="333.20" x2="162.30" y2="328.50" stroke="#ee6464" stroke-width="1.6" stroke-linecap="butt"/>
<line x1="119.60" y1="338.30" x2="117.15" y2="333.40" stroke="#c4aecb" stroke-width="1.6" stroke-linecap="butt"/>
<line x1="117.15" y1="333.40" x2="114.70" y2="328.50" stroke="#ee6464" stroke-width="1.6" stroke-linecap="butt"/>
<line x1="145.80" y1="337.90" x2="141.90" y2="333.70" stroke="#c4aecb" stroke-width="1.6" stroke-linecap="butt"/>
<line x1="141.90" y1="333.70" x2="138.00" y2="329.50" stroke="#ee6464" stroke-width="1.6" stroke-linecap="butt"/>
<line x1="138.00" y1="329.50" x2="144.00" y2="325.25" stroke="#ee6464" stroke-width="1.6" stroke-linecap="butt"/>
<line x1="144.00" y1="325.25" x2="150.00" y2="321.00" stroke="#ee6464" stroke-width="1.6" stroke-linecap="butt"/>
<line x1="163.30" y1="325.60" x2="158.15" y2="323.80" stroke="#8a6648" stroke-width="1.6" stroke-linecap="butt"/>
<line x1="158.15" y1="323.80" x2="153.00" y2="322.00" stroke="#ee6464" stroke-width="1.6" stroke-linecap="butt"/>
<line x1="108.90" y1="341.00" x2="114.25" y2="339.65" stroke="#ee6464" stroke-width="1.6" stroke-linecap="butt"/>
<line x1="114.25" y1="339.65" x2="119.60" y2="338.30" stroke="#c4aecb" stroke-width="1.6" stroke-linecap="butt"/>
<line x1="119.60" y1="338.30" x2="125.30" y2="341.65" stroke="#c4aecb" stroke-width="1.6" stroke-linecap="butt"/>
<line x1="125.30" y1="341.65" x2="131.00" y2="345.00" stroke="#ee6464" stroke-width="1.6" stroke-linecap="butt"/>
<g clip-path="url(#clipE1)">
<ellipse cx="115.00" cy="301.20" rx="9.0" ry="6.4" fill="url(#gY)" opacity="1.0" transform="rotate(-10 115.00 301.20)"/>
<ellipse cx="114.50" cy="310.00" rx="6.5" ry="4.0" fill="url(#gCy)" opacity="1.0" transform="rotate(0 114.50 310.00)"/>
<ellipse cx="126.00" cy="309.20" rx="4.6" ry="3.6" fill="url(#gCy)" opacity="1.0" transform="rotate(0 126.00 309.20)"/>
<ellipse cx="118.50" cy="320.00" rx="7.5" ry="5.6" fill="url(#gCy)" opacity="1.0" transform="rotate(0 118.50 320.00)"/>
<ellipse cx="130.20" cy="317.90" rx="11.7" ry="2.8" fill="url(#gY)" opacity="1.0" transform="rotate(20 130.20 317.90)"/>
<ellipse cx="122.00" cy="313.20" rx="3.6" ry="2.6" fill="url(#gY)" opacity="1.0" transform="rotate(0 122.00 313.20)"/>
<ellipse cx="153.60" cy="302.60" rx="6.6" ry="6.2" fill="url(#gY)" opacity="1.0" transform="rotate(0 153.60 302.60)"/>
<ellipse cx="147.90" cy="309.80" rx="7.6" ry="5.4" fill="url(#gCy)" opacity="1.0" transform="rotate(0 147.90 309.80)"/>
<ellipse cx="151.00" cy="315.00" rx="5.0" ry="3.0" fill="url(#gCy)" opacity="1.0" transform="rotate(0 151.00 315.00)"/>
<ellipse cx="145.80" cy="320.40" rx="6.6" ry="4.2" fill="url(#gY)" opacity="1.0" transform="rotate(-8 145.80 320.40)"/>
</g>
<circle cx="115.70" cy="324.70" r="2.4" fill="url(#gC)"/>
<circle cx="163.30" cy="325.60" r="2.4" fill="url(#gC)"/>
<circle cx="114.70" cy="328.50" r="2.5" fill="url(#gO)"/>
<circle cx="138.00" cy="329.50" r="2.5" fill="url(#gO)"/>
<circle cx="162.30" cy="328.50" r="2.5" fill="url(#gO)"/>
<circle cx="133.70" cy="315.50" r="1.4" fill="url(#gC)"/>
<circle cx="119.60" cy="338.30" r="6.0" fill="url(#gMo)"/>
<circle cx="145.80" cy="337.90" r="6.0" fill="url(#gMo)"/>
<circle cx="156.50" cy="300.40" r="1.6" fill="url(#gH)"/>
<line x1="134.30" y1="299.30" x2="134.30" y2="314.00" stroke="#c09060" stroke-width="0.8" stroke-dasharray="1 1"/>
<text transform="translate(134.90 296.80) scale(1 1.05)" style="font-family:'Liberation Sans', sans-serif" font-size="9.6" text-anchor="middle" fill="#222">C</text>
<circle cx="176.40" cy="293.40" r="5.0" fill="url(#gMo)"/>
<text transform="translate(184.30 298.00) scale(1 1.12)" style="font-family:'Liberation Sans', sans-serif" font-size="10.4" text-anchor="start" fill="#111">Mo</text>
<circle cx="176.40" cy="309.20" r="3.7" fill="url(#gO)"/>
<text transform="translate(185.60 315.60) scale(1 1.12)" style="font-family:'Liberation Sans', sans-serif" font-size="10.4" text-anchor="start" fill="#111">O</text>
<circle cx="176.40" cy="322.00" r="3.4" fill="url(#gC)"/>
<text transform="translate(185.20 326.40) scale(1 1.12)" style="font-family:'Liberation Sans', sans-serif" font-size="10.4" text-anchor="start" fill="#111">C</text>
<circle cx="176.40" cy="335.00" r="2.5" fill="url(#gH)"/>
<text transform="translate(185.60 339.40) scale(1 1.12)" style="font-family:'Liberation Sans', sans-serif" font-size="10.4" text-anchor="start" fill="#111">H</text>
<text transform="translate(204.60 211.80) scale(1 0.97)" style="font-family:'Liberation Serif', serif" font-size="26" text-anchor="start" fill="#000" font-weight="bold">f</text>
<line x1="241.80" y1="205.50" x2="244.40" y2="205.50" stroke="#1a1a1a" stroke-width="0.9"/>
<line x1="241.80" y1="210.06" x2="243.20" y2="210.06" stroke="#1a1a1a" stroke-width="0.9"/>
<line x1="241.80" y1="214.61" x2="243.20" y2="214.61" stroke="#1a1a1a" stroke-width="0.9"/>
<line x1="241.80" y1="219.17" x2="243.20" y2="219.17" stroke="#1a1a1a" stroke-width="0.9"/>
<line x1="241.80" y1="223.73" x2="243.20" y2="223.73" stroke="#1a1a1a" stroke-width="0.9"/>
<line x1="241.80" y1="228.28" x2="244.40" y2="228.28" stroke="#1a1a1a" stroke-width="0.9"/>
<line x1="241.80" y1="232.84" x2="243.20" y2="232.84" stroke="#1a1a1a" stroke-width="0.9"/>
<line x1="241.80" y1="237.40" x2="243.20" y2="237.40" stroke="#1a1a1a" stroke-width="0.9"/>
<line x1="241.80" y1="241.96" x2="243.20" y2="241.96" stroke="#1a1a1a" stroke-width="0.9"/>
<line x1="241.80" y1="246.51" x2="243.20" y2="246.51" stroke="#1a1a1a" stroke-width="0.9"/>
<line x1="241.80" y1="251.07" x2="244.40" y2="251.07" stroke="#1a1a1a" stroke-width="0.9"/>
<line x1="241.80" y1="255.63" x2="243.20" y2="255.63" stroke="#1a1a1a" stroke-width="0.9"/>
<line x1="241.80" y1="260.18" x2="243.20" y2="260.18" stroke="#1a1a1a" stroke-width="0.9"/>
<line x1="241.80" y1="264.74" x2="243.20" y2="264.74" stroke="#1a1a1a" stroke-width="0.9"/>
<line x1="241.80" y1="269.30" x2="243.20" y2="269.30" stroke="#1a1a1a" stroke-width="0.9"/>
<line x1="241.80" y1="273.86" x2="244.40" y2="273.86" stroke="#1a1a1a" stroke-width="0.9"/>
<line x1="241.80" y1="278.41" x2="243.20" y2="278.41" stroke="#1a1a1a" stroke-width="0.9"/>
<line x1="241.80" y1="282.97" x2="243.20" y2="282.97" stroke="#1a1a1a" stroke-width="0.9"/>
<line x1="241.80" y1="287.53" x2="243.20" y2="287.53" stroke="#1a1a1a" stroke-width="0.9"/>
<line x1="241.80" y1="292.08" x2="243.20" y2="292.08" stroke="#1a1a1a" stroke-width="0.9"/>
<line x1="241.80" y1="296.64" x2="244.40" y2="296.64" stroke="#1a1a1a" stroke-width="0.9"/>
<line x1="241.80" y1="301.20" x2="243.20" y2="301.20" stroke="#1a1a1a" stroke-width="0.9"/>
<line x1="241.80" y1="305.75" x2="243.20" y2="305.75" stroke="#1a1a1a" stroke-width="0.9"/>
<line x1="241.80" y1="310.31" x2="243.20" y2="310.31" stroke="#1a1a1a" stroke-width="0.9"/>
<line x1="241.80" y1="314.87" x2="243.20" y2="314.87" stroke="#1a1a1a" stroke-width="0.9"/>
<line x1="241.80" y1="319.43" x2="244.40" y2="319.43" stroke="#1a1a1a" stroke-width="0.9"/>
<line x1="241.80" y1="323.98" x2="243.20" y2="323.98" stroke="#1a1a1a" stroke-width="0.9"/>
<line x1="241.80" y1="328.54" x2="243.20" y2="328.54" stroke="#1a1a1a" stroke-width="0.9"/>
<line x1="241.80" y1="333.10" x2="243.20" y2="333.10" stroke="#1a1a1a" stroke-width="0.9"/>
<line x1="241.80" y1="337.65" x2="243.20" y2="337.65" stroke="#1a1a1a" stroke-width="0.9"/>
<line x1="241.80" y1="342.21" x2="244.40" y2="342.21" stroke="#1a1a1a" stroke-width="0.9"/>
<text transform="translate(238.60 209.20) scale(1 1.13)" style="font-family:'Liberation Serif', serif" font-size="11.0" text-anchor="end" fill="#111">1.0</text>
<text transform="translate(238.60 231.98) scale(1 1.13)" style="font-family:'Liberation Serif', serif" font-size="11.0" text-anchor="end" fill="#111">0.5</text>
<text transform="translate(238.60 254.77) scale(1 1.13)" style="font-family:'Liberation Serif', serif" font-size="11.0" text-anchor="end" fill="#111">0.0</text>
<text transform="translate(238.60 277.56) scale(1 1.13)" style="font-family:'Liberation Serif', serif" font-size="11.0" text-anchor="end" fill="#111">-0.5</text>
<text transform="translate(238.60 300.34) scale(1 1.13)" style="font-family:'Liberation Serif', serif" font-size="11.0" text-anchor="end" fill="#111">-1.0</text>
<text transform="translate(238.60 323.12) scale(1 1.13)" style="font-family:'Liberation Serif', serif" font-size="11.0" text-anchor="end" fill="#111">-1.5</text>
<text transform="translate(238.60 345.91) scale(1 1.13)" style="font-family:'Liberation Serif', serif" font-size="11.0" text-anchor="end" fill="#111">-2.0</text>
<text transform="translate(214.00 273.50) rotate(-90) scale(1 1.03)" style="font-family:'Liberation Serif', serif" font-size="12.4" text-anchor="middle" fill="#111">Energy (eV)</text>
<text transform="translate(279.20 357.90) scale(1 1.13)" style="font-family:'Liberation Serif', serif" font-size="11.3" text-anchor="middle" fill="#111">MoO<tspan font-size="7.8" dy="2.8">2</tspan></text>
<text transform="translate(352.30 357.90) scale(1 1.13)" style="font-family:'Liberation Serif', serif" font-size="11.3" text-anchor="middle" fill="#111">HP-MoOC</text>
<text transform="translate(425.50 357.90) scale(1 1.13)" style="font-family:'Liberation Serif', serif" font-size="11.3" text-anchor="middle" fill="#111">HCP-MoOC</text>
<path d="M273.30,291.90 C271.52,292.47 264.22,294.42 262.60,295.30 C260.98,296.18 262.47,296.32 263.60,297.20 C264.73,298.08 268.18,299.72 269.40,300.60 C270.62,301.48 271.72,301.62 270.90,302.50 C270.08,303.38 266.68,304.92 264.50,305.90 C262.32,306.88 256.18,307.58 257.80,308.40 C259.42,309.22 271.47,310.40 274.20,310.80" fill="none" stroke="#cfcfcf" stroke-width="0.8"/>
<path d="M293.60,291.90 C291.67,292.95 283.68,296.27 282.00,298.20 C280.32,300.13 282.62,301.97 283.50,303.50 C284.38,305.03 286.73,306.10 287.30,307.40 C287.87,308.70 286.97,311.03 286.90,311.30 C286.83,311.57 286.90,309.38 286.90,309.00" fill="none" stroke="#cfcfcf" stroke-width="0.8"/>
<polyline points="257.70,206.20 259.56,208.10 262.20,210.00 263.63,212.20 266.60,214.40 263.30,217.70 269.13,219.95 274.30,222.20 265.61,224.15 258.80,226.10 274.30,228.80 264.40,232.10 266.31,234.33 267.77,236.57 269.90,238.80 267.23,240.65 266.50,242.50 269.87,244.50 273.20,246.50 271.45,248.73 271.59,250.97 271.00,253.20 271.55,255.40 273.10,257.60 275.50,259.80 273.63,261.90 272.10,264.00 270.90,266.50 277.20,268.90 270.62,270.85 262.60,272.80 267.90,274.70 264.34,276.97 261.82,279.23 259.70,281.50 264.83,283.70 269.40,285.90 262.60,287.80 268.93,289.75 273.30,291.70" fill="none" stroke="#151515" stroke-width="0.9" stroke-linejoin="round"/>
<polyline points="292.10,206.20 293.37,208.10 294.30,210.00 281.00,212.20 289.62,214.40 298.70,216.60 295.35,218.80 289.90,221.00 290.00,222.87 292.89,224.73 293.20,226.60 290.87,228.43 288.68,230.27 287.60,232.10 289.90,235.50 286.26,237.70 284.30,239.90 283.51,242.47 284.26,245.03 283.20,247.60 284.70,249.85 287.60,252.10 285.58,253.93 283.51,255.77 281.00,257.60 293.20,259.80 286.50,263.20 289.80,265.00 288.07,266.95 286.90,268.90 287.97,270.83 287.87,272.77 289.80,274.70 288.83,277.10 289.80,279.50 284.40,281.50 285.40,283.90 297.50,285.90 287.80,288.80 293.60,291.70" fill="none" stroke="#151515" stroke-width="0.9" stroke-linejoin="round"/>
<polyline points="274.20,310.80 276.20,311.40 278.60,313.80 277.25,315.75 277.20,317.70 273.80,320.60 278.10,323.50 263.60,325.50 267.90,328.90 274.20,331.80 270.90,334.20 272.80,336.10 269.90,338.10 273.30,340.00 269.40,341.80" fill="none" stroke="#151515" stroke-width="0.9" stroke-linejoin="round"/>
<polyline points="286.90,309.00 286.80,310.90 285.90,312.80 289.39,315.00 293.20,317.20 289.80,320.60 284.04,322.80 279.10,325.00 295.60,327.90 285.90,329.30 285.34,331.50 284.40,333.70 279.10,336.10 293.20,338.10 289.45,339.95 285.90,341.80" fill="none" stroke="#151515" stroke-width="0.9" stroke-linejoin="round"/>
<polyline points="351.40,295.50 337.00,299.00 351.00,303.00 364.00,300.00 351.40,295.50" fill="none" stroke="#c8c8f5" stroke-width="0.8" stroke-linejoin="round"/>
<polyline points="351.40,303.00 351.40,315.70" fill="none" stroke="#c8c8f5" stroke-width="0.8" stroke-linejoin="round"/>
<polyline points="332.70,205.80 342.00,207.30 338.79,209.37 337.11,211.43 333.70,213.50 341.00,216.60 338.84,218.70 335.80,220.80 338.34,223.40 342.00,226.00 341.11,228.60 339.90,231.20 343.09,233.27 346.99,235.33 349.30,237.40 345.10,239.50 345.97,241.57 345.37,243.63 346.20,245.70 344.82,247.80 340.49,249.90 338.90,252.00 343.37,254.05 348.20,256.10 345.67,258.20 342.00,260.30 342.78,262.35 345.10,264.40 334.70,266.50 338.83,268.55 343.00,270.60 344.10,270.00 344.14,272.10 346.20,274.20 344.47,276.25 342.00,278.30 346.20,281.40 342.63,283.50 337.90,285.60 344.10,288.70 334.70,290.80 342.66,292.85 350.30,294.90 351.40,295.50" fill="none" stroke="#2424f0" stroke-width="0.9" stroke-linejoin="round"/>
<polyline points="363.80,205.80 369.00,207.30 361.70,209.30 368.78,211.90 374.20,214.50 359.70,216.60 369.00,219.70 360.70,222.90 370.10,225.00 356.60,227.00 365.90,229.10 362.02,231.53 359.40,233.97 355.50,236.40 356.48,238.47 357.23,240.55 357.73,242.62 358.60,244.70 357.61,246.77 356.11,248.83 353.40,250.90 354.94,253.00 356.60,255.10 359.36,256.83 360.43,258.57 363.80,260.30 354.50,262.30 363.24,264.90 371.10,267.50 355.50,270.60 356.60,272.00 364.90,274.20 355.50,276.20 361.02,278.30 365.90,280.40 363.33,282.45 358.60,284.50 363.47,286.60 366.46,288.70 371.10,290.80 353.40,293.90 351.40,295.50" fill="none" stroke="#2424f0" stroke-width="0.9" stroke-linejoin="round"/>
<polyline points="351.40,315.70 335.80,318.20 347.20,322.00 336.80,325.00 346.20,328.20 335.80,331.30 350.30,334.40 351.40,335.00 351.40,342.00" fill="none" stroke="#2424f0" stroke-width="0.9" stroke-linejoin="round"/>
<polyline points="351.40,315.70 370.10,318.20 355.50,322.00 371.10,325.00 356.60,328.20 364.90,331.30 352.40,334.40 351.40,335.00" fill="none" stroke="#2424f0" stroke-width="0.9" stroke-linejoin="round"/>
<path d="M411.90,296.00 C412.25,296.83 414.32,299.50 414.00,301.00 C413.68,302.50 409.67,303.50 410.00,305.00 C410.33,306.50 415.33,307.70 416.00,310.00 C416.67,312.30 414.33,317.33 414.00,318.80" fill="none" stroke="#f8c8c8" stroke-width="0.8"/>
<path d="M435.80,297.00 C434.83,297.83 430.30,300.50 430.00,302.00 C429.70,303.50 434.50,304.50 434.00,306.00 C433.50,307.50 427.73,308.87 427.00,311.00 C426.27,313.13 429.17,317.50 429.60,318.80" fill="none" stroke="#f8c8c8" stroke-width="0.8"/>
<polyline points="409.90,205.80 411.11,208.10 413.00,210.40 410.91,212.45 407.80,214.50 415.00,216.60 415.00,219.70 396.30,221.80 414.00,222.90 412.00,226.00 405.70,228.00 414.00,229.10 408.80,232.20 418.20,235.30 412.00,238.40 418.20,241.60 413.00,244.70 414.33,246.43 418.42,248.17 421.30,249.90 416.65,251.95 414.00,254.00 417.00,256.60 422.30,259.20 427.00,261.50 429.60,264.40 427.50,267.50 430.60,270.00 428.60,273.10 433.48,275.20 441.00,277.30 437.67,279.37 431.62,281.43 428.60,283.50 431.99,285.60 436.90,287.70 422.30,290.80 416.77,293.40 411.90,296.00" fill="none" stroke="#ff2424" stroke-width="0.9" stroke-linejoin="round"/>
<polyline points="433.70,205.80 436.90,209.30 436.44,211.40 432.49,213.50 432.02,215.60 430.60,217.70 432.30,219.75 433.70,221.80 449.30,223.90 431.70,227.00 437.00,229.60 440.00,232.20 432.70,234.30 434.71,236.35 434.80,238.40 427.50,241.60 436.90,243.60 427.50,246.70 435.80,249.90 427.50,253.00 434.80,255.10 432.09,257.17 426.54,259.23 423.40,261.30 416.10,262.30 415.30,264.90 415.00,267.50 418.20,270.60 416.10,270.00 419.20,272.10 414.13,274.70 409.90,277.30 416.20,279.90 420.20,282.50 417.42,284.55 411.90,286.60 417.10,288.70 424.40,290.80 427.23,292.87 431.20,294.93 435.80,297.00" fill="none" stroke="#ff2424" stroke-width="0.9" stroke-linejoin="round"/>
<polyline points="414.00,318.80 411.90,322.00 415.25,324.05 420.20,326.10 417.55,328.20 415.00,330.30 422.30,333.40 416.37,335.45 409.90,337.50 412.29,339.60 416.10,341.70" fill="none" stroke="#ff2424" stroke-width="0.9" stroke-linejoin="round"/>
<polyline points="429.60,318.80 430.16,320.90 433.70,323.00 428.60,326.10 430.41,328.20 432.70,330.30 424.40,333.40 429.71,335.45 435.80,337.50 431.85,339.60 427.50,341.70" fill="none" stroke="#ff2424" stroke-width="0.9" stroke-linejoin="round"/>
<line x1="315.50" y1="205.50" x2="315.50" y2="342.20" stroke="#a0a0a0" stroke-width="1.5"/>
<line x1="387.50" y1="205.50" x2="387.50" y2="342.20" stroke="#2a2a2a" stroke-width="1.1"/>
<rect x="241.80" y="205.50" width="217.70" height="136.70" fill="none" stroke="#1a1a1a" stroke-width="1.2"/>
<line x1="241.80" y1="289.40" x2="315.50" y2="289.40" stroke="#c8641e" stroke-width="1.5" stroke-dasharray="3.6 2.0"/>
<line x1="315.50" y1="292.90" x2="387.50" y2="292.90" stroke="#c8641e" stroke-width="1.5" stroke-dasharray="3.6 2.0"/>
<line x1="387.50" y1="296.50" x2="459.50" y2="296.50" stroke="#c8641e" stroke-width="1.5" stroke-dasharray="3.6 2.0"/>
<text transform="translate(251.50 305.60) scale(1 1.13)" style="font-family:'Liberation Sans', sans-serif" font-size="9.8" text-anchor="start" fill="#1f7a1f" font-weight="bold">E<tspan font-size="7" dy="2">d</tspan><tspan dy="-2">= -0.85 eV</tspan></text>
<text transform="translate(324.30 309.90) scale(1 1.13)" style="font-family:'Liberation Sans', sans-serif" font-size="9.8" text-anchor="start" fill="#1f7a1f" font-weight="bold">E<tspan font-size="7" dy="2">d</tspan><tspan dy="-2">= -0.92 eV</tspan></text>
<text transform="translate(395.30 311.10) scale(1 1.13)" style="font-family:'Liberation Sans', sans-serif" font-size="9.8" text-anchor="start" fill="#1f7a1f" font-weight="bold">E<tspan font-size="7" dy="2">d</tspan><tspan dy="-2">= -0.97 eV</tspan></text>
<rect x="501.20" y="205.80" width="182.50" height="135.50" fill="none" stroke="#1a1a1a" stroke-width="1.2"/>
<text transform="translate(468.50 208.40) scale(1 1.08)" style="font-family:'Liberation Serif', serif" font-size="25.5" text-anchor="start" fill="#000" font-weight="bold">g</text>
<line x1="501.20" y1="219.65" x2="502.60" y2="219.65" stroke="#1a1a1a" stroke-width="0.9"/>
<line x1="501.20" y1="233.20" x2="503.80" y2="233.20" stroke="#1a1a1a" stroke-width="0.9"/>
<line x1="501.20" y1="246.75" x2="502.60" y2="246.75" stroke="#1a1a1a" stroke-width="0.9"/>
<line x1="501.20" y1="260.30" x2="503.80" y2="260.30" stroke="#1a1a1a" stroke-width="0.9"/>
<line x1="501.20" y1="273.85" x2="502.60" y2="273.85" stroke="#1a1a1a" stroke-width="0.9"/>
<line x1="501.20" y1="287.40" x2="503.80" y2="287.40" stroke="#1a1a1a" stroke-width="0.9"/>
<line x1="501.20" y1="300.95" x2="502.60" y2="300.95" stroke="#1a1a1a" stroke-width="0.9"/>
<line x1="501.20" y1="314.50" x2="503.80" y2="314.50" stroke="#1a1a1a" stroke-width="0.9"/>
<line x1="501.20" y1="328.05" x2="502.60" y2="328.05" stroke="#1a1a1a" stroke-width="0.9"/>
<text transform="translate(497.80 209.80) scale(1 1.04)" style="font-family:'Liberation Serif', serif" font-size="10.4" text-anchor="end" fill="#111">0.2</text>
<text transform="translate(497.80 236.90) scale(1 1.04)" style="font-family:'Liberation Serif', serif" font-size="10.4" text-anchor="end" fill="#111">0.0</text>
<text transform="translate(497.80 264.00) scale(1 1.04)" style="font-family:'Liberation Serif', serif" font-size="10.4" text-anchor="end" fill="#111">-0.2</text>
<text transform="translate(497.80 291.10) scale(1 1.04)" style="font-family:'Liberation Serif', serif" font-size="10.4" text-anchor="end" fill="#111">-0.4</text>
<text transform="translate(497.80 318.20) scale(1 1.04)" style="font-family:'Liberation Serif', serif" font-size="10.4" text-anchor="end" fill="#111">-0.6</text>
<text transform="translate(497.80 345.30) scale(1 1.04)" style="font-family:'Liberation Serif', serif" font-size="10.4" text-anchor="end" fill="#111">-0.8</text>
<text transform="translate(477.10 273.00) rotate(-90) scale(1 0.88)" style="font-family:'Liberation Serif', serif" font-size="12.0" text-anchor="middle" fill="#111">ΔG (eV)</text>
<text transform="translate(593.15 356.70) scale(1 1.01)" style="font-family:'Liberation Serif', serif" font-size="12.26" text-anchor="middle" fill="#111">Reaction coordinate</text>
<text transform="translate(517.20 228.60) scale(1 0.99)" style="font-family:'Liberation Serif', serif" font-size="10.8" text-anchor="start" fill="#111">H<tspan font-size="7.5" dy="-4">+</tspan><tspan dy="4"> + e</tspan><tspan font-size="7.5" dy="-4">-</tspan></text>
<text transform="translate(635.80 228.50) scale(1 0.95)" style="font-family:'Liberation Serif', serif" font-size="10.9" text-anchor="start" fill="#111">1/2 H<tspan font-size="7.2" dy="2.5">2</tspan><tspan dy="-2.5">(g)</tspan></text>
<line x1="516.20" y1="233.30" x2="548.80" y2="233.30" stroke="#555" stroke-width="1.0"/>
<line x1="637.50" y1="233.30" x2="670.00" y2="233.30" stroke="#555" stroke-width="1.0"/>
<line x1="577.50" y1="259.30" x2="608.00" y2="259.30" stroke="#ff2020" stroke-width="1.6"/>
<line x1="548.80" y1="233.50" x2="577.50" y2="259.30" stroke="#3a3aff" stroke-width="0.7" stroke-dasharray="1.2 1.2"/>
<line x1="608.00" y1="259.30" x2="637.50" y2="233.50" stroke="#3a3aff" stroke-width="0.7" stroke-dasharray="1.2 1.2"/>
<line x1="577.50" y1="291.30" x2="608.00" y2="291.30" stroke="#2222ff" stroke-width="1.8"/>
<line x1="548.80" y1="233.50" x2="577.50" y2="291.30" stroke="#ff4040" stroke-width="0.7" stroke-dasharray="1.2 1.2"/>
<line x1="608.00" y1="291.30" x2="637.50" y2="233.50" stroke="#ff4040" stroke-width="0.7" stroke-dasharray="1.2 1.2"/>
<line x1="577.50" y1="309.60" x2="608.00" y2="309.60" stroke="#777" stroke-width="1.0"/>
<line x1="548.80" y1="233.50" x2="577.50" y2="309.60" stroke="#222" stroke-width="0.7" stroke-dasharray="1.2 1.2"/>
<line x1="608.00" y1="309.60" x2="637.50" y2="233.50" stroke="#222" stroke-width="0.7" stroke-dasharray="1.2 1.2"/>
<line x1="621.10" y1="312.40" x2="638.50" y2="312.40" stroke="#ff3030" stroke-width="0.9"/>
<text transform="translate(641.80 315.00) scale(1 1.06)" style="font-family:'Liberation Serif', serif" font-size="8.0" text-anchor="start" fill="#111">HCP-MoOC</text>
<line x1="621.10" y1="322.40" x2="638.50" y2="322.40" stroke="#2020ff" stroke-width="0.9"/>
<text transform="translate(641.80 325.00) scale(1 1.06)" style="font-family:'Liberation Serif', serif" font-size="8.0" text-anchor="start" fill="#111">HP-MoOC</text>
<line x1="621.10" y1="332.40" x2="638.50" y2="332.40" stroke="#888" stroke-width="0.9"/>
<text transform="translate(641.80 335.00) scale(1 1.06)" style="font-family:'Liberation Serif', serif" font-size="8.0" text-anchor="start" fill="#111">MoO<tspan font-size="5.5" dy="2">2</tspan></text>
</svg></body></html>
